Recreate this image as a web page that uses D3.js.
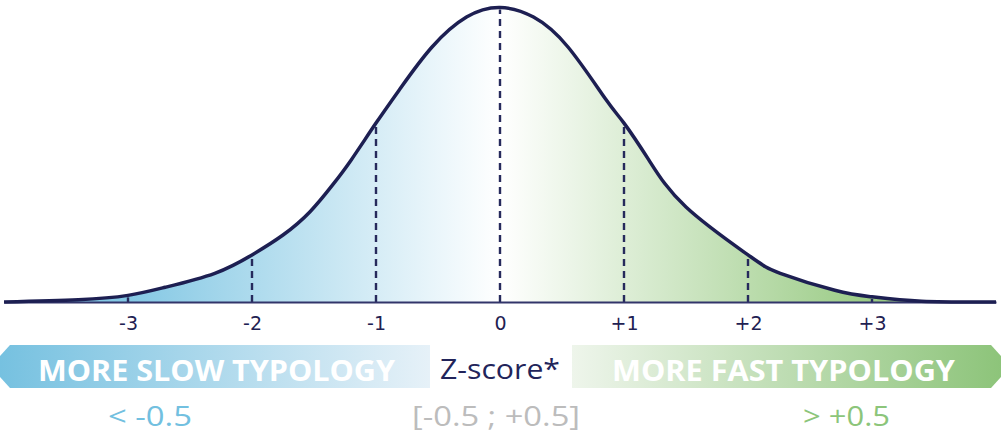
<!DOCTYPE html>
<html>
<head>
<meta charset="utf-8">
<script src="https://cdn.jsdelivr.net/npm/d3@7"></script>
<style>
	body { margin: 0; background: #fff; }
	text { font-family: 'Open Sans', 'DejaVu Sans', sans-serif; }
	.axis text { font-family: 'DejaVu Sans', sans-serif; font-size: 19px; }
</style>
</head>
<body>
<div id="chart"></div>
<script>
// z-scores and curve heights (density)
var zValues = [-4.0, -3.4, -3.0, -2.7, -2.3, -2.0, -1.75, -1.53, -1.35, -1.2, -1.0, -0.8, -0.55, -0.27, 0,
	0.27, 0.55, 0.85, 1.0, 1.2, 1.5, 2.0, 2.26, 2.7, 3.0, 3.4, 4.0]
var density = [0.000, 0.003, 0.009, 0.020, 0.039, 0.064, 0.091, 0.123, 0.159, 0.193, 0.243, 0.291, 0.346, 0.387, 0.400,
	0.387, 0.346, 0.276, 0.243, 0.193, 0.129, 0.064, 0.039, 0.016, 0.007, 0.001, 0.000]

var tickValues = [-3, -2, -1, 0, 1, 2, 3]
var tickLabels = ['-3', '-2', '-1', '0', '+1', '+2', '+3']

var groupNames = ['MORE SLOW TYPOLOGY', 'Z-score*', 'MORE FAST TYPOLOGY']
var groupRanges = ['< -0.5', '[-0.5 ; +0.5]', '> +0.5']

var width = 1001
var height = 435
var baseY = 302

var svg = d3.select('#chart').append('svg')
	.attr('width', width)
	.attr('height', height)

var xScale = d3.scaleLinear()
	.domain([-4, 4])
	.range([4, 996])

var yScale = d3.scaleLinear()
	.domain([0, 0.4])
	.range([baseY, 7.5])

var points = zValues.map(function(z, i) {
	return { z: z, d: density[i] }
})

var defs = svg.append('defs')

function addGradient(id, x1, x2, stops) {
	var g = defs.append('linearGradient')
		.attr('id', id)
		.attr('gradientUnits', 'userSpaceOnUse')
		.attr('x1', x1).attr('x2', x2)
		.attr('y1', 0).attr('y2', 0)
	stops.forEach(function(s) {
		g.append('stop').attr('offset', s[0]).attr('stop-color', s[1])
	})
}

addGradient('curveFill', xScale(-3), xScale(3), [
	[0, '#84c8e4'],
	[0.5, '#ffffff'],
	[1, '#9acb85']
])
addGradient('slowFill', 0, 430, [[0, '#76c1e0'], [1, '#e6f1f8']])
addGradient('fastFill', 572, 1001, [[0, '#eef5eb'], [1, '#8dc47a']])

var area = d3.area()
	.x(function(d) { return xScale(d.z) })
	.y0(baseY)
	.y1(function(d) { return Math.min(baseY, yScale(d.d)) })
	.curve(d3.curveNatural)

var line = d3.line()
	.x(function(d) { return xScale(d.z) })
	.y(function(d) { return yScale(d.d) })
	.curve(d3.curveNatural)

svg.append('path')
	.datum(points)
	.attr('d', area)
	.attr('fill', 'url(#curveFill)')

// dashed guides up to the curve
svg.selectAll('.guide')
	.data(tickValues)
	.enter().append('line')
	.attr('class', 'guide')
	.attr('x1', function(d) { return xScale(d) })
	.attr('x2', function(d) { return xScale(d) })
	.attr('y1', baseY)
	.attr('y2', function(d) {
		var p = points.find(function(q) { return q.z === d })
		return yScale(p.d) + 2
	})
	.attr('stroke', '#262a5c')
	.attr('stroke-width', 2.4)
	.attr('stroke-dasharray', '7,5')

var axis = svg.append('g')
	.attr('class', 'axis')
	.attr('transform', 'translate(0,' + baseY + ')')
	.call(
		d3.axisBottom(xScale)
			.tickValues(tickValues)
			.tickFormat(function(d, i) { return tickLabels[i] })
			.tickSize(0)
			.tickPadding(15)
	)
axis.attr('font-size', 19).attr('font-family', null)
axis.select('.domain')
	.attr('stroke', '#32356a')
	.attr('stroke-width', 2)
axis.selectAll('text')
	.attr('fill', '#1f2152')

svg.append('path')
	.datum(points)
	.attr('d', line)
	.attr('fill', 'none')
	.attr('stroke', '#1d1f52')
	.attr('stroke-width', 3.5)

// legend bars
svg.append('path')
	.attr('d', 'M10,345 L430,345 L430,388 L10,388 L0,377 L0,356 Z')
	.attr('fill', 'url(#slowFill)')
svg.append('path')
	.attr('d', 'M572,345 L991,345 L1001,356 L1001,377 L991,388 L572,388 Z')
	.attr('fill', 'url(#fastFill)')

var nameLayout = [
	{ x: 216.5, y: 381, len: 357, size: 29, weight: 'bold', color: '#ffffff' },
	{ x: 500, y: 379, len: 120, size: 28, weight: 'normal', color: '#22245a' },
	{ x: 783.5, y: 381, len: 343, size: 29, weight: 'bold', color: '#ffffff' }
]
var rangeLayout = [
	{ x: 150, len: 84, color: '#72c0e0' },
	{ x: 496, len: 168, color: '#bcbcbc' },
	{ x: 846.5, len: 87, color: '#8cc57a' }
]

svg.selectAll('.group-name')
	.data(groupNames)
	.enter().append('text')
	.attr('class', 'group-name')
	.attr('x', function(d, i) { return nameLayout[i].x })
	.attr('y', function(d, i) { return nameLayout[i].y })
	.attr('text-anchor', 'middle')
	.attr('textLength', function(d, i) { return nameLayout[i].len })
	.attr('lengthAdjust', 'spacingAndGlyphs')
	.style('font-size', function(d, i) { return nameLayout[i].size + 'px' })
	.style('font-weight', function(d, i) { return nameLayout[i].weight })
	.attr('fill', function(d, i) { return nameLayout[i].color })
	.text(function(d) { return d })

svg.selectAll('.group-range')
	.data(groupRanges)
	.enter().append('text')
	.attr('class', 'group-range')
	.attr('x', function(d, i) { return rangeLayout[i].x })
	.attr('y', 426)
	.attr('text-anchor', 'middle')
	.attr('textLength', function(d, i) { return rangeLayout[i].len })
	.attr('lengthAdjust', 'spacingAndGlyphs')
	.style('font-size', '28px')
	.attr('fill', function(d, i) { return rangeLayout[i].color })
	.text(function(d) { return d })
</script>
</body>
</html>
